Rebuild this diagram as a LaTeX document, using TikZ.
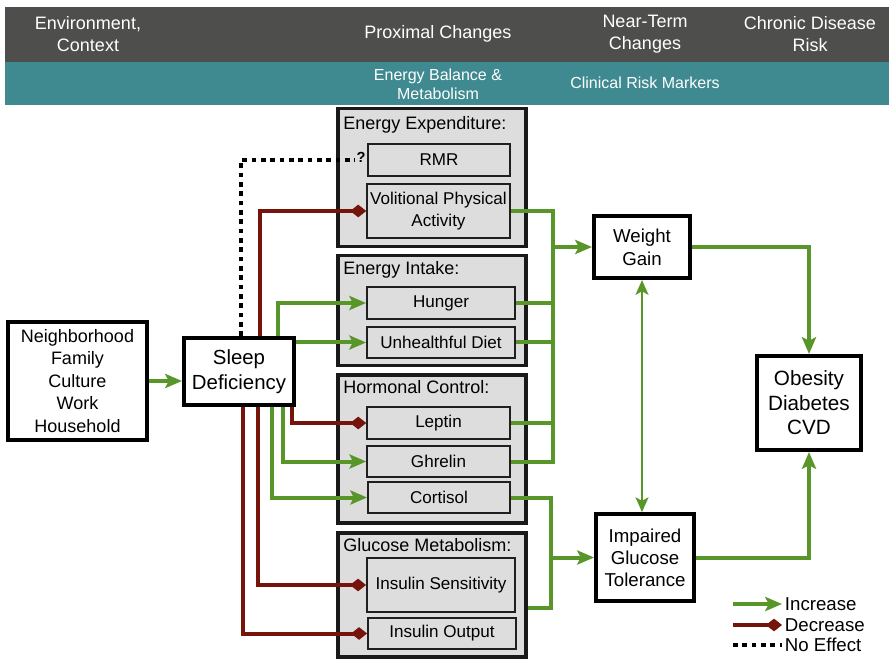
\documentclass[tikz,border=0pt]{standalone}
\usepackage{fontspec}
\setmainfont{Liberation Sans}
\usetikzlibrary{arrows.meta,positioning}

\definecolor{incgreen}{RGB}{88,150,42}
\definecolor{decred}{RGB}{118,20,12}
\definecolor{hdrdark}{RGB}{78,78,76}
\definecolor{hdrteal}{RGB}{62,138,144}
\definecolor{boxgray}{RGB}{220,221,220}

\begin{document}
\begin{tikzpicture}[x=0.75pt,y=-0.75pt]
\begin{scope}

\tikzstyle{grpbox} = [minimum width=141pt,draw=black!90,line width=2.4pt,fill=boxgray,inner sep=0pt];
\tikzstyle{itembox} = [draw=black!88,line width=1.4pt,fill=boxgray,inner sep=0pt,align=center,font=\fontsize{12.8}{16.5}\selectfont];
\tikzstyle{whitebox} = [draw=black,line width=3pt,fill=white,inner sep=0pt,align=center];
\tikzstyle{grplabel} = [anchor=west,inner sep=0pt,font=\fontsize{13.5}{16}\selectfont];
\tikzstyle{hdrtext} = [text=white,align=center,font=\fontsize{13.5}{16.5}\selectfont];
\tikzstyle{incline} = [incgreen,line width=3pt];
\tikzstyle{decline} = [decred,line width=3pt];
\tikzstyle{incarrow} = [incline,-{Stealth[length=12.5pt,width=10.5pt,inset=2.5pt]}];
\tikzstyle{decarrow} = [decline,-{Diamond[length=12pt,width=9.5pt]}];
\tikzstyle{noline} = [black,line width=3.5pt,dash pattern=on 3.5pt off 3.5pt];
\tikzstyle{legtext} = [anchor=west,inner sep=2pt,font=\fontsize{14}{16}\selectfont];

\useasboundingbox (0,0) rectangle (889,659);
\fill [white] (0,0) rectangle (889,659);

% header bands
\fill [hdrdark] (5,7) rectangle (889,62);
\fill [hdrteal] (5,62) rectangle (889,105);
\node [hdrtext] (h1) at (88,34) {Environment,\\Context};
\node [hdrtext] (h2) at (438,34) {Proximal Changes};
\node [hdrtext] (h3) at (645,34) {Near-Term\\Changes};
\node [hdrtext] (h4) at (810,34) {Chronic Disease\\Risk};
\node [hdrtext,font=\fontsize{12}{14}\selectfont] (h5) at (438,84) {Energy Balance \&\\Metabolism};
\node [hdrtext,font=\fontsize{12}{14}\selectfont] (h6) at (645,83) {Clinical Risk Markers};

% left side
\node [whitebox,minimum width=104pt,minimum height=88.5pt,font=\fontsize{13.5}{16.9}\selectfont] (env) at (77.5,381) {Neighborhood\\Family\\Culture\\Work\\Household};
\node [whitebox,minimum width=82.5pt,minimum height=50pt,font=\fontsize{15.3}{18.7}\selectfont] (sd) at (239,371.5) {Sleep\\Deficiency};

% groups
\node [grpbox,minimum height=104pt] (gee) at (432,177.5) {};
\node [grpbox,minimum height=83pt] (gei) at (432,310.5) {};
\node [grpbox,minimum height=111pt] (ghc) at (432,449) {};
\node [grpbox,minimum height=93pt] (ggm) at (432,595) {};
\node [grplabel] (lee) at ([xshift=5pt,yshift=-14pt]gee.north west) {Energy Expenditure:};
\node [grplabel] (lei) at ([xshift=5pt,yshift=-12pt]gei.north west) {Energy Intake:};
\node [grplabel] (lhc) at ([xshift=5pt,yshift=-10pt]ghc.north west) {Hormonal Control:};
\node [grplabel] (lgm) at ([xshift=5pt,yshift=-10pt]ggm.north west) {Glucose Metabolism:};

% items
\node [itembox,minimum width=106.5pt,minimum height=24pt] (rmr) at (439,160) {RMR};
\node [itembox,minimum width=107pt,minimum height=40.5pt] (vpa) at (438.5,211) {Volitional Physical\\Activity};
\node [itembox,minimum width=111pt,minimum height=24pt] (hunger) at (441,303) {Hunger};
\node [itembox,minimum width=111pt,minimum height=23pt] (diet) at (441,342.5) {Unhealthful Diet};
\node [itembox,minimum width=107pt,minimum height=24pt] (leptin) at (438.5,423) {Leptin};
\node [itembox,minimum width=107pt,minimum height=23pt] (ghrelin) at (438.5,461.5) {Ghrelin};
\node [itembox,minimum width=106.5pt,minimum height=23pt] (cortisol) at (439,497.5) {Cortisol};
\node [itembox,minimum width=111pt,minimum height=40.5pt] (inssens) at (441,585) {Insulin Sensitivity};
\node [itembox,minimum width=111pt,minimum height=23pt] (insout) at (442,633.5) {Insulin Output};

% outcomes
\node [whitebox,minimum width=72pt,minimum height=46.5pt,font=\fontsize{14}{17}\selectfont] (wg) at (642,247) {Weight\\Gain};
\node [whitebox,minimum width=73.5pt,minimum height=65pt,font=\fontsize{14}{16.5}\selectfont] (igt) at (645,557.5) {Impaired\\Glucose\\Tolerance};
\node [whitebox,minimum width=78pt,minimum height=70.5pt,font=\fontsize{15.5}{18.4}\selectfont] (obes) at (809,403) {Obesity\\Diabetes\\CVD};

\coordinate (bus1) at (553,0);
\coordinate (bus2) at (551,0);
\coordinate (gmo) at ([yshift=-10pt]ggm.east);

% from sleep deficiency
\draw [incarrow] (env.east) -- (env.east -| sd.west);
\node [anchor=east,inner sep=1pt,font=\bfseries\fontsize{11}{12}\selectfont] (qmark) at ([yshift=2pt]rmr.west) {?};
\draw [noline] ([xshift=1.5pt]sd.north) |- (qmark.west |- rmr.west);
\draw [decarrow] ([xshift=15.75pt]sd.north) |- (vpa.west);
\draw [incarrow] ([xshift=29pt]sd.north) |- (hunger.west);
\draw [incarrow] (diet.west -| sd.east) -- (diet.west);
\draw [decarrow] ([xshift=39.5pt]sd.south) |- (leptin.west);
\draw [incarrow] ([xshift=33pt]sd.south) |- (ghrelin.west);
\draw [incarrow] ([xshift=25pt]sd.south) |- (cortisol.west);
\draw [decarrow] ([xshift=14pt]sd.south) |- (inssens.west);
\draw [decarrow] ([xshift=3pt]sd.south) |- (insout.west);

% buses
\draw [incline] (vpa.east) -| (ghrelin.east -| bus1) -- (ghrelin.east);
\draw [incline] (hunger.east) -- (hunger.east -| bus1);
\draw [incline] (diet.east) -- (diet.east -| bus1);
\draw [incline] (leptin.east) -- (leptin.east -| bus1);
\draw [incarrow] (wg.west -| bus1) -- (wg.west);
\draw [incline] (cortisol.east) -| (gmo -| bus2) -- (gmo);
\draw [incarrow] (igt.west -| bus2) -- (igt.west);

% outcomes
\draw [incarrow] (wg.east) -| (obes.north);
\draw [incarrow] (igt.east) -| (obes.south);
\draw [incgreen,line width=2.2pt,{Stealth[length=11pt,width=9.5pt,inset=2.5pt]}-{Stealth[length=11pt,width=9.5pt,inset=2.5pt]}] (wg.south) -- (wg.south |- igt.north);

% legend
\node [legtext] (linc) at (782,604) {Increase};
\node [legtext] (ldec) at (782,625) {Decrease};
\node [legtext] (lno) at (782,645) {No Effect};
\coordinate (la) at (733,604);
\coordinate (lb) at (733,625);
\coordinate (lc) at (733,645);
\draw [incarrow] (la) -- (linc.west);
\draw [decarrow] (lb) -- (ldec.west);
\draw [noline] (lc) -- (lno.west);

\end{scope}
\end{tikzpicture}
\end{document}
